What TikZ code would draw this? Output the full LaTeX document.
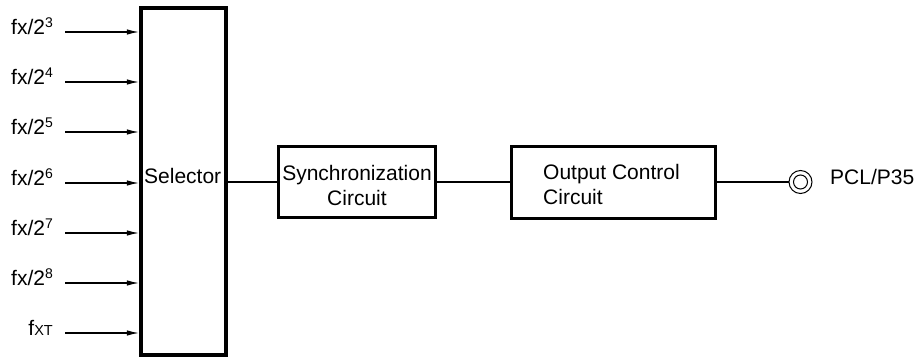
\documentclass[tikz,border=0pt]{standalone}
\usepackage{fontspec}
\setmainfont{Liberation Sans}
\usetikzlibrary{arrows.meta}
\newcommand{\pw}[1]{\raisebox{7.5pt}{\fontsize{14}{14}\selectfont #1}}
\begin{document}
\begin{tikzpicture}[x=1pt,y=1pt,
  txt/.style={font=\fontsize{21}{25}\selectfont, inner sep=0pt},
  block/.style={draw, line width=3pt, inner sep=0pt},
  wire/.style={line width=1.1pt},
  feed/.style={wire, -{Latex[length=12pt,width=5.5pt]}}]
\useasboundingbox (0,0) rectangle (914,360);

% selector block
\node[block, line width=3.8pt, minimum width=85.5pt, minimum height=347pt] (sel) at (183.5,178.5) {};
\node[txt, anchor=mid west] (seltxt) at (144,179) {Selector};

% synchronization circuit
\node[block, minimum width=157pt, minimum height=71pt] (sync) at (357,178) {};
\node[txt, align=center] (synctxt) at (357,174.5) {Synchronization\\Circuit};

% output control circuit
\node[block, minimum width=204pt, minimum height=72pt] (outc) at (613.5,177.5) {};
\node[txt, anchor=west, align=left] (outtxt) at (543,175.5) {Output Control\\Circuit};

% output pin
\node[circle, draw, line width=1pt, minimum size=23pt, inner sep=0pt] (pin) at (800.5,178) {};
\node[circle, draw, line width=1pt, minimum size=14pt, inner sep=0pt] (pinin) at (pin) {};
\node[txt, anchor=mid west] (pinlab) at (830,178) {PCL/P35};

% clock inputs
\foreach \n/\y/\lab in {3/328/{fx/2\pw{3}}, 4/278/{fx/2\pw{4}}, 5/228/{fx/2\pw{5}},
                        6/177/{fx/2\pw{6}}, 7/127/{fx/2\pw{7}}, 8/77/{fx/2\pw{8}},
                        T/27/{f{\fontsize{14.5}{14}\selectfont XT}}}{
  \coordinate (in\n) at (65,\y);
  \node[txt, anchor=mid east] (lab\n) at ([xshift=-12pt]in\n) {\lab};
  \draw[feed] (in\n) -- (in\n -| sel.west);
}

% signal path
\draw[wire] (sel.east |- sync.west) -- (sync.west);
\draw[wire] (sync.east) -- (sync.east -| outc.west);
\draw[wire] (outc.east |- pin.west) -- (pin.west);
\end{tikzpicture}
\end{document}
